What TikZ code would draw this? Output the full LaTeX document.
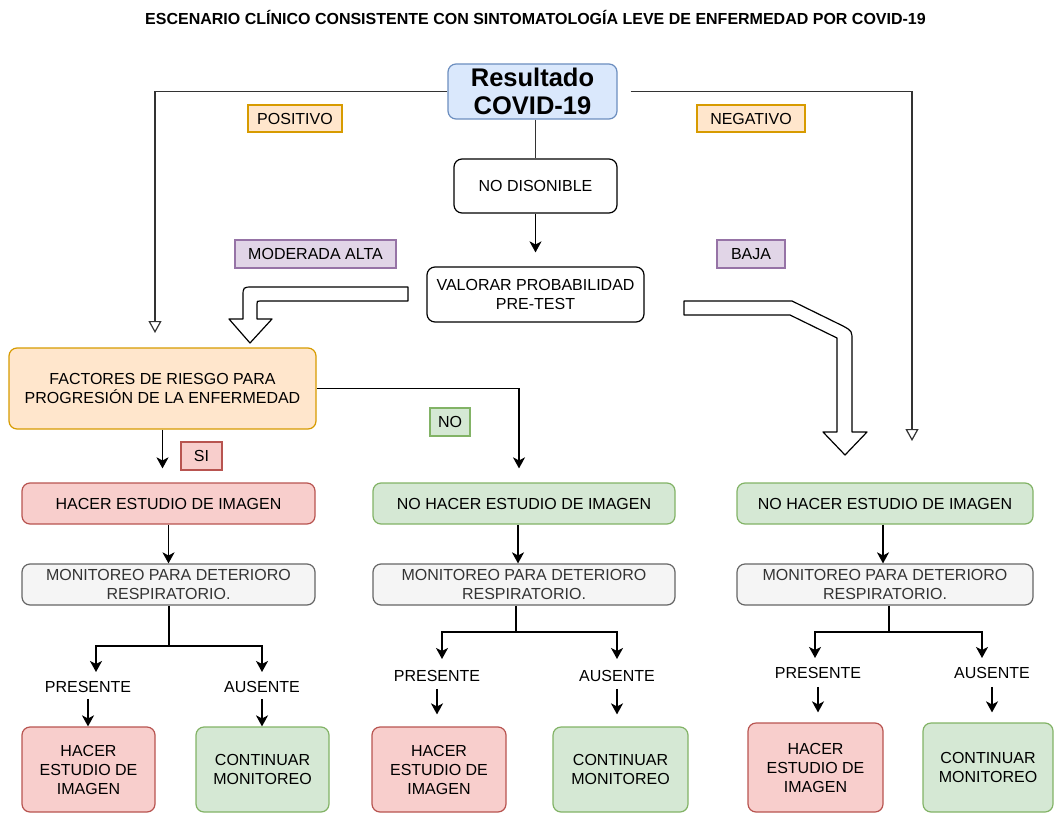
\documentclass[tikz,border=0pt]{standalone}
\usepackage{fontspec}
\setmainfont{Liberation Sans}
\usetikzlibrary{arrows.meta}

\definecolor{blueF}{HTML}{DAE8FC}\definecolor{blueD}{HTML}{6C8EBF}
\definecolor{orangeF}{HTML}{FFE6CC}\definecolor{orangeD}{HTML}{D79B00}
\definecolor{purpleF}{HTML}{E1D5E7}\definecolor{purpleD}{HTML}{9673A6}
\definecolor{redF}{HTML}{F8CECC}\definecolor{redD}{HTML}{B85450}
\definecolor{greenF}{HTML}{D5E8D4}\definecolor{greenD}{HTML}{82B366}
\definecolor{grayF}{HTML}{F5F5F5}\definecolor{grayD}{HTML}{666666}
\definecolor{grayT}{HTML}{333333}
\definecolor{wireC}{HTML}{333333}

\begin{document}
\begin{tikzpicture}[x=1pt,y=-1pt,
  txt/.style={font=\fontsize{16}{19}\selectfont},
  box/.style={txt,draw,rounded corners=8pt,line width=1.2pt,align=center,inner sep=0pt},
  tag/.style={txt,draw,line width=1.2pt,align=center,inner sep=0pt},
  sz/.style 2 args={minimum width=#1pt,minimum height=#2pt},
  bluebox/.style={box,fill=blueF,draw=blueD},
  plainbox/.style={box,fill=white,draw=black},
  orangebox/.style={box,fill=orangeF,draw=orangeD},
  redbox/.style={box,fill=redF,draw=redD},
  greenbox/.style={box,fill=greenF,draw=greenD},
  graybox/.style={box,fill=grayF,draw=grayD,text=grayT},
  orangetag/.style={tag,fill=orangeF,draw=orangeD},
  purpletag/.style={tag,fill=purpleF,draw=purpleD},
  redtag/.style={tag,fill=redF,draw=redD},
  greentag/.style={tag,fill=greenF,draw=greenD},
  word/.style={txt,inner sep=0pt},
  wire/.style={draw=wireC,line width=1.2pt},
  hollow/.style={wire,-{Triangle[open,length=12pt,width=13pt]}},
  arr/.style={draw=black,line width=1.5pt,-{Stealth[length=11pt,width=12pt,inset=3pt]}},
  stem/.style={draw=black,line width=1.5pt},
  blk/.style={draw=black,fill=white,line width=1.2pt,line join=round}
]
\useasboundingbox (0,0) rectangle (1056,813);

% heading
\node[word,font=\bfseries\fontsize{16}{19}\selectfont] (title) at (535.5,17)
  {ESCENARIO CLÍNICO CONSISTENTE CON SINTOMATOLOGÍA LEVE DE ENFERMEDAD POR COVID-19};

% test result and the branch for an unavailable test
\node[bluebox,sz={169}{55},font=\bfseries\fontsize{25.5}{28}\selectfont] (res) at (532.5,91.5) {Resultado\\COVID-19};
\node[plainbox,sz={163}{54}] (nodisp) at (535.5,186) {NO DISONIBLE};
\node[plainbox,sz={217}{55}] (valorar) at (535.5,294.5) {VALORAR PROBABILIDAD\\PRE-TEST};

\node[orangetag,sz={94}{27}] (pos) at (295,118.5) {POSITIVO};
\node[orangetag,sz={108}{27}] (neg) at (751,118.5) {NEGATIVO};
\node[purpletag,sz={161}{28}] (mod) at (315.5,254) {MODERADA ALTA};
\node[purpletag,sz={68}{28}] (baja) at (751,254) {BAJA};

% risk factors
\node[orangebox,sz={307}{81}] (fact) at (162.5,388.5) {FACTORES DE RIESGO PARA\\PROGRESIÓN DE LA ENFERMEDAD};
\node[redtag,sz={41}{28}] (si) at (201.5,456) {SI};
\node[greentag,sz={40}{28}] (no) at (450,422) {NO};

% imaging decision per column
\node[redbox,sz={293}{41}] (h1) at (168.5,503.5) {HACER ESTUDIO DE IMAGEN};
\node[greenbox,sz={302}{41}] (n2) at (524,503.5) {NO HACER ESTUDIO DE IMAGEN};
\node[greenbox,sz={296}{41}] (n3) at (885,503.5) {NO HACER ESTUDIO DE IMAGEN};

% monitoring
\node[graybox,sz={293}{41}] (m1) at (168.5,584.5) {MONITOREO PARA DETERIORO\\RESPIRATORIO.};
\node[graybox,sz={302}{41}] (m2) at (524,584.5) {MONITOREO PARA DETERIORO\\RESPIRATORIO.};
\node[graybox,sz={296}{41}] (m3) at (885,584.5) {MONITOREO PARA DETERIORO\\RESPIRATORIO.};

% outcome words
\node[word] (p1) at (88,687) {PRESENTE};
\node[word] (a1) at (262,687) {AUSENTE};
\node[word] (p2) at (437,676) {PRESENTE};
\node[word] (a2) at (617,676) {AUSENTE};
\node[word] (p3) at (818,673) {PRESENTE};
\node[word] (a3) at (992,673) {AUSENTE};

% final actions
\node[redbox,sz={133}{85}] (fh1) at (88.5,769.5) {HACER\\ESTUDIO DE\\IMAGEN};
\node[greenbox,sz={133}{85}] (fc1) at (262.5,769.5) {CONTINUAR\\MONITOREO};
\node[redbox,sz={134}{85}] (fh2) at (439,769.5) {HACER\\ESTUDIO DE\\IMAGEN};
\node[greenbox,sz={135}{85}] (fc2) at (620.5,769.5) {CONTINUAR\\MONITOREO};
\node[redbox,sz={135}{89}] (fh3) at (815.5,767.5) {HACER\\ESTUDIO DE\\IMAGEN};
\node[greenbox,sz={130}{89}] (fc3) at (988,767.5) {CONTINUAR\\MONITOREO};

% connectors from the test result
\coordinate (posEnd) at (155,333);
\coordinate (negEnd) at (912,441);
\draw[hollow] (res.west) -| (posEnd);
\draw[hollow] ([xshift=13pt]res.east) -| (negEnd);
\draw[wire] (nodisp.north |- res.south) -- (nodisp.north);
\draw[arr,line width=1.2pt] (nodisp.south) -- (valorar.north) [shorten >=14pt];

% wide arrows out of the pre-test probability
\draw[blk] (408,287) -- (253,287) .. controls (243,287) .. (243,297) -- (243,319)
  -- (229,319) -- (250,343) -- (272,319) -- (257,319) -- (257,304)
  .. controls (257,301) .. (260,301) -- (408,301) -- cycle;
\draw[blk] (684,301) -- (792,301) -- (843,326) .. controls (852,331) .. (852,341)
  -- (852,432) -- (867,432) -- (845,455) -- (823,432) -- (837,432) -- (837,338)
  -- (790,315) -- (684,315) -- cycle;

% risk factor branches
\draw[arr,shorten >=14pt] (fact.south) -- (fact.south |- h1.north);
\draw[arr,shorten >=14pt] (fact.east) -| ([xshift=-5pt]n2.north);

% into monitoring
\draw[arr] (h1.south) -- (m1.north);
\draw[arr] ([xshift=-6pt]n2.south) -- ([xshift=-6pt]m2.north);
\draw[arr] ([xshift=-2pt]n3.south) -- ([xshift=-2pt]m3.north);

% monitoring splits
\coordinate (j1) at (169,646);  \coordinate (e1p) at (96,672);  \coordinate (e1a) at (262,672);
\coordinate (j2) at (516,632);  \coordinate (e2p) at (442,659); \coordinate (e2a) at (617,659);
\coordinate (j3) at (889,632);  \coordinate (e3p) at (815,658); \coordinate (e3a) at (982,658);
\draw[stem] (m1.south -| j1) -- (j1);
\draw[arr] (j1) -| (e1p);
\draw[arr] (j1) -| (e1a);
\draw[stem] (m2.south -| j2) -- (j2);
\draw[arr] (j2) -| (e2p);
\draw[arr] (j2) -| (e2a);
\draw[stem] (m3.south -| j3) -- (j3);
\draw[arr] (j3) -| (e3p);
\draw[arr] (j3) -| (e3a);

% outcome arrows
\draw[arr,shorten <=6pt] (p1.south) -- (p1.south |- fh1.north);
\draw[arr,shorten <=6pt] (a1.south) -- (a1.south |- fc1.north);
\draw[arr,shorten <=7pt,shorten >=12pt] (p2.south) -- (p2.south |- fh2.north);
\draw[arr,shorten <=7pt,shorten >=12pt] (a2.south) -- (a2.south |- fc2.north);
\draw[arr,shorten <=8pt,shorten >=10pt] (p3.south) -- (p3.south |- fh3.north);
\draw[arr,shorten <=8pt,shorten >=10pt] (a3.south) -- (a3.south |- fc3.north);
\end{tikzpicture}
\end{document}
